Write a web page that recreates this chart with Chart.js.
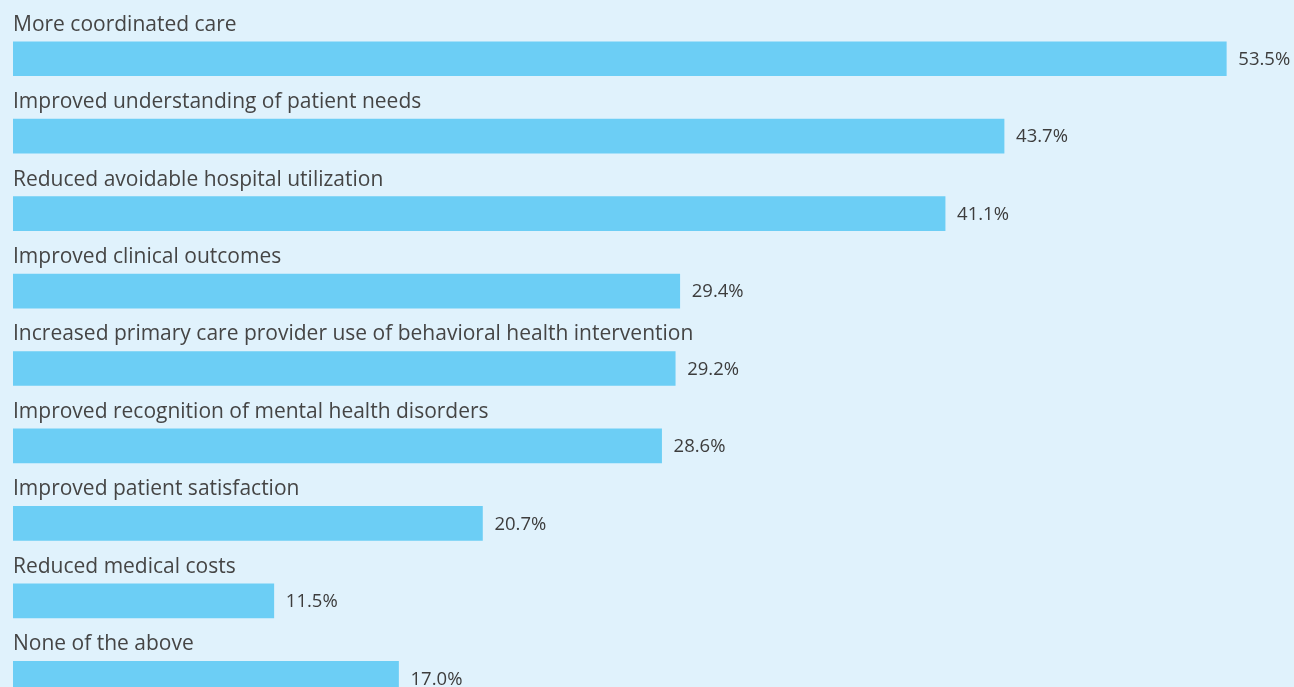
<!DOCTYPE html>
<html>
<head>
<meta charset="utf-8">
<script src="https://cdn.jsdelivr.net/npm/chart.js@4"></script>
<style>
  html, body { margin: 0; padding: 0; background: #e0f2fc; overflow: hidden; }
  #wrap { position: relative; width: 1294px; height: 720px; }
</style>
</head>
<body>
<div id="wrap"><canvas id="benefitsChart"></canvas></div>
<script>
const categories = [
  "More coordinated care",
  "Improved understanding of patient needs",
  "Reduced avoidable hospital utilization",
  "Improved clinical outcomes",
  "Increased primary care provider use of behavioral health intervention",
  "Improved recognition of mental health disorders",
  "Improved patient satisfaction",
  "Reduced medical costs",
  "None of the above",
];
const values = [53.5, 43.7, 41.1, 29.4, 29.2, 28.6, 20.7, 11.5, 17.0];
const valueLabels = values.map((v) => v.toFixed(1) + "%");

// draws the category name above each bar and the % to the right
const barText = {
  id: "barText",
  afterDatasetsDraw(chart) {
    const { ctx, chartArea } = chart;
    const meta = chart.getDatasetMeta(0);
    ctx.save();
    meta.data.forEach((bar, i) => {
      ctx.fillStyle = "#454545";
      ctx.font = "21px 'Open Sans'";
      ctx.textAlign = "left";
      ctx.textBaseline = "middle";
      ctx.fillText(categories[i], chartArea.left, bar.y - 34);
      ctx.fillStyle = "#3d3d3d";
      ctx.font = "18.5px 'Open Sans'";
      ctx.fillText(valueLabels[i], bar.x + 12, bar.y + 1);
    });
    ctx.restore();
  },
};

const ctx = document.getElementById("benefitsChart").getContext("2d");

new Chart(ctx, {
  type: "bar",
  data: {
    labels: categories,
    datasets: [
      {
        data: values,
        backgroundColor: "#6ccef5",
        borderWidth: 0,
        barThickness: 34,
      },
    ],
  },
  options: {
    indexAxis: "y",
    responsive: true,
    maintainAspectRatio: false,
    devicePixelRatio: 1,
    animation: false,
    layout: { padding: { left: 13, right: 11, top: 20, bottom: 3 } },
    scales: {
      x: { display: false, min: 0, max: 56 },
      y: { display: false },
    },
    plugins: {
      legend: { display: false },
      tooltip: { enabled: false },
    },
  },
  plugins: [barText],
});
</script>
</body>
</html>
